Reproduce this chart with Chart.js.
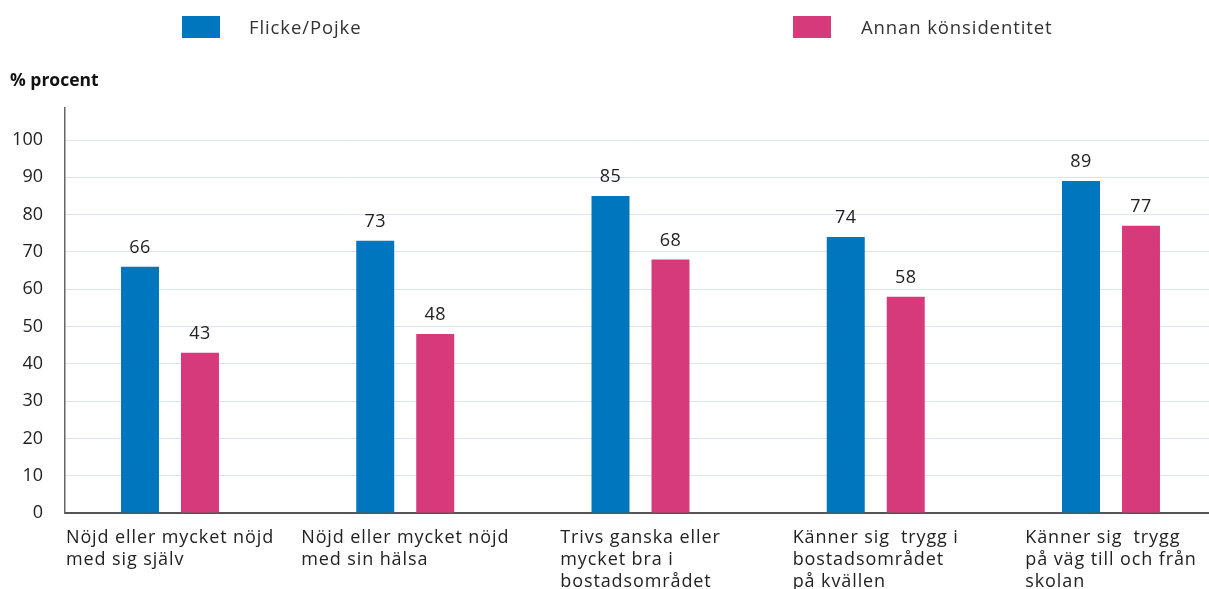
<!DOCTYPE html>
<html>
<head>
<meta charset="utf-8">
<script src="https://cdn.jsdelivr.net/npm/chart.js@4"></script>
<style>
  html, body { margin: 0; padding: 0; background: #fff; }
  #wrap { position: relative; width: 1209px; height: 589px; }
  #chart { position: absolute; left: 0; top: 0; }
  .lg-box { position: absolute; width: 38px; height: 22px; top: 16px; }
  .lg-text { position: absolute; top: 14px; font: 18.5px "Open Sans", sans-serif; letter-spacing: 0.9px; color: #333; line-height: 26px; }
</style>
</head>
<body>
<div id="wrap">
  <canvas id="chart" width="1209" height="589"></canvas>
  <div id="legend"></div>
</div>
<script>
const categories = [
  ["Nöjd eller mycket nöjd", "med sig själv"],
  ["Nöjd eller mycket nöjd", "med sin hälsa"],
  ["Trivs ganska eller", "mycket bra i", "bostadsområdet"],
  ["Känner sig  trygg i", "bostadsområdet", "på kvällen"],
  ["Känner sig  trygg", "på väg till och från", "skolan"],
];
const seriesNames = ["Flicke/Pojke", "Annan könsidentitet"];
const flickePojke = [66, 73, 85, 74, 89];
const annanKonsidentitet = [43, 48, 68, 58, 77];
const yTicks = [0, 10, 20, 30, 40, 50, 60, 70, 80, 90, 100];

const COLORS = {
  blue: "#0076bf",
  pink: "#d63a7a",
  text: "#222222",
  grid: "#dde3e8",
  axis: "#666666",
};
const FONT = '"Open Sans", sans-serif';

// html legend, placed like the original
const legendPos = [{ box: 182, text: 249 }, { box: 793, text: 861 }];
const legendColors = [COLORS.blue, COLORS.pink];
document.getElementById("legend").innerHTML = seriesNames.map((name, i) => `
  <div class="lg-box" style="left:${legendPos[i].box}px;background:${legendColors[i]}"></div>
  <div class="lg-text" style="left:${legendPos[i].text}px">${name}</div>
`).join("");

const valueLabels = {
  id: "valueLabels",
  afterDatasetsDraw(chart) {
    const ctx = chart.ctx;
    ctx.save();
    ctx.font = `18px ${FONT}`;
    ctx.letterSpacing = "0.5px";
    ctx.fillStyle = COLORS.text;
    ctx.textAlign = "center";
    ctx.textBaseline = "bottom";
    chart.data.datasets.forEach((ds, di) => {
      chart.getDatasetMeta(di).data.forEach((bar, i) => {
        ctx.fillText(ds.data[i].y, bar.x, bar.y - 10);
      });
    });
    ctx.restore();
  },
};

// category labels: block centred on group, lines left aligned
const categoryLabels = {
  id: "categoryLabels",
  afterDraw(chart) {
    const ctx = chart.ctx;
    const xs = chart.scales.x;
    const bottom = chart.chartArea.bottom;
    ctx.save();
    ctx.font = `18px ${FONT}`;
    ctx.letterSpacing = "0.9px";
    ctx.fillStyle = COLORS.text;
    ctx.textAlign = "left";
    ctx.textBaseline = "middle";
    categories.forEach((lines, i) => {
      const w = Math.max(...lines.map(l => ctx.measureText(l).width));
      const left = xs.getPixelForValue(i) - w / 2;
      lines.forEach((l, j) => ctx.fillText(l, left, bottom + 25 + j * 22));
    });
    ctx.restore();
  },
};

new Chart(document.getElementById("chart"), {
  type: "bar",
  data: {
    datasets: [
      {
        label: seriesNames[0],
        data: flickePojke.map((v, i) => ({ x: i, y: v })),
        backgroundColor: COLORS.blue,
      },
      {
        label: seriesNames[1],
        data: annanKonsidentitet.map((v, i) => ({ x: i, y: v })),
        backgroundColor: COLORS.pink,
      },
    ],
  },
  options: {
    responsive: false,
    animation: false,
    categoryPercentage: 0.51,
    barPercentage: 0.633,
    layout: { padding: { left: 10, right: 0, top: 0, bottom: 76 } },
    plugins: {
      legend: { display: false },
      tooltip: { enabled: false },
      title: {
        display: true,
        text: "% procent",
        align: "start",
        color: "#111",
        font: { family: FONT, size: 17.5, weight: "bold", lineHeight: 1.2 },
        padding: { top: 71, bottom: 16 },
      },
    },
    scales: {
      x: {
        type: "linear",
        offset: false,
        min: -0.4463,
        max: 4.4166,
        afterBuildTicks: (scale) => { scale.ticks = categories.map((c, i) => ({ value: i })); },
        ticks: { display: false },
        grid: { display: false, drawTicks: false, offset: false },
        border: { display: true, color: "#555", width: 2 },
      },
      y: {
        min: 0,
        max: 108.6,
        afterBuildTicks: (scale) => { scale.ticks = yTicks.map(v => ({ value: v })); },
        afterFit: (scale) => { scale.width = 55; },
        ticks: {
          color: COLORS.text,
          font: { family: FONT, size: 18 },
          padding: 22,
        },
        grid: { color: COLORS.grid, lineWidth: 1, drawTicks: false },
        border: { display: true, color: COLORS.axis, width: 1.5 },
      },
    },
  },
  plugins: [valueLabels, categoryLabels],
});
</script>
</body>
</html>
